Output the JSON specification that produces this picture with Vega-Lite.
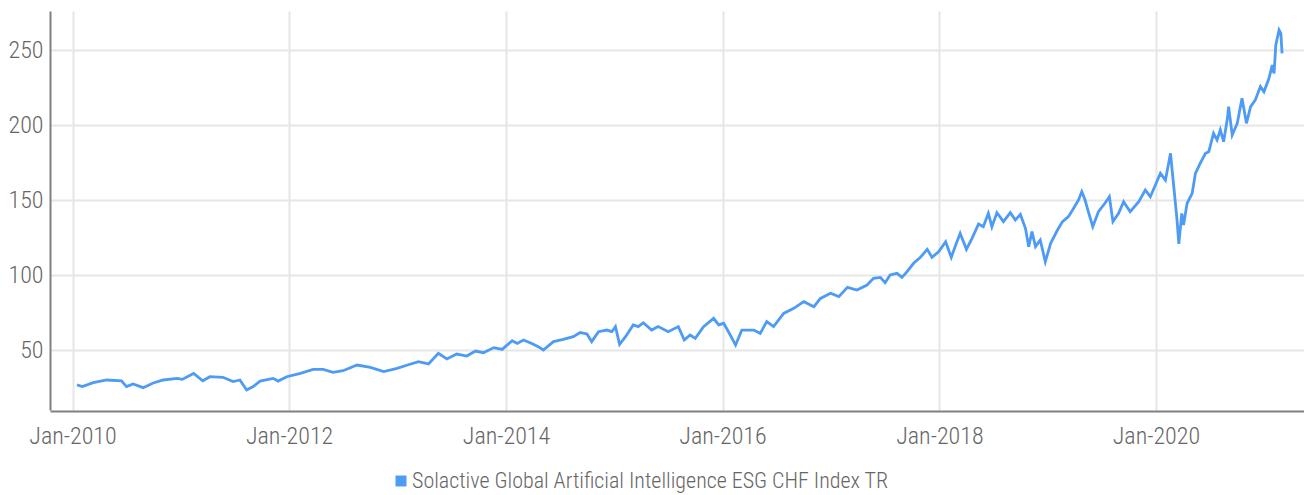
{
  "$schema": "https://vega.github.io/schema/vega-lite/v6.json",
  "width": 1254,
  "height": 399,
  "autosize": "none",
  "padding": {"left": 50, "top": 11, "right": 0, "bottom": 85},
  "config": {"view": {"stroke": null}, "font": "Roboto Condensed, Roboto"},
  "data": {"values": [
    {"date": "2010-01-16", "value": 26.7},
    {"date": "2010-02-03", "value": 25.6},
    {"date": "2010-03-12", "value": 28.2},
    {"date": "2010-04-26", "value": 30.0},
    {"date": "2010-06-15", "value": 29.5},
    {"date": "2010-07-02", "value": 25.6},
    {"date": "2010-07-24", "value": 27.3},
    {"date": "2010-08-27", "value": 24.9},
    {"date": "2010-09-30", "value": 28.0},
    {"date": "2010-11-03", "value": 30.0},
    {"date": "2010-12-20", "value": 31.1},
    {"date": "2011-01-06", "value": 30.4},
    {"date": "2011-02-13", "value": 34.4},
    {"date": "2011-03-16", "value": 29.5},
    {"date": "2011-04-09", "value": 32.2},
    {"date": "2011-05-23", "value": 31.8},
    {"date": "2011-06-26", "value": 28.9},
    {"date": "2011-07-19", "value": 30.0},
    {"date": "2011-08-11", "value": 23.3},
    {"date": "2011-09-02", "value": 25.6},
    {"date": "2011-09-25", "value": 29.3},
    {"date": "2011-11-08", "value": 31.1},
    {"date": "2011-11-25", "value": 29.3},
    {"date": "2011-12-24", "value": 32.2},
    {"date": "2012-02-08", "value": 34.4},
    {"date": "2012-03-22", "value": 37.1},
    {"date": "2012-04-25", "value": 37.1},
    {"date": "2012-05-28", "value": 35.1},
    {"date": "2012-07-01", "value": 36.2},
    {"date": "2012-08-17", "value": 40.0},
    {"date": "2012-10-01", "value": 38.4},
    {"date": "2012-11-15", "value": 35.6},
    {"date": "2012-12-30", "value": 37.8},
    {"date": "2013-02-03", "value": 40.0},
    {"date": "2013-03-12", "value": 42.2},
    {"date": "2013-04-15", "value": 40.7},
    {"date": "2013-05-18", "value": 47.8},
    {"date": "2013-06-16", "value": 44.0},
    {"date": "2013-07-19", "value": 47.3},
    {"date": "2013-08-22", "value": 46.0},
    {"date": "2013-09-20", "value": 49.3},
    {"date": "2013-10-17", "value": 48.2},
    {"date": "2013-11-21", "value": 51.6},
    {"date": "2013-12-19", "value": 50.4},
    {"date": "2014-01-22", "value": 56.2},
    {"date": "2014-02-08", "value": 54.4},
    {"date": "2014-03-01", "value": 56.7},
    {"date": "2014-03-29", "value": 54.4},
    {"date": "2014-04-20", "value": 52.2},
    {"date": "2014-05-07", "value": 50.0},
    {"date": "2014-06-10", "value": 55.6},
    {"date": "2014-07-13", "value": 57.1},
    {"date": "2014-08-16", "value": 58.9},
    {"date": "2014-09-08", "value": 61.6},
    {"date": "2014-10-01", "value": 60.7},
    {"date": "2014-10-17", "value": 55.6},
    {"date": "2014-11-09", "value": 62.2},
    {"date": "2014-12-07", "value": 63.3},
    {"date": "2014-12-24", "value": 62.2},
    {"date": "2015-01-05", "value": 65.6},
    {"date": "2015-01-19", "value": 53.8},
    {"date": "2015-02-08", "value": 58.9},
    {"date": "2015-03-06", "value": 66.7},
    {"date": "2015-03-23", "value": 65.6},
    {"date": "2015-04-09", "value": 68.2},
    {"date": "2015-05-07", "value": 63.3},
    {"date": "2015-05-29", "value": 65.6},
    {"date": "2015-07-02", "value": 62.2},
    {"date": "2015-08-05", "value": 65.6},
    {"date": "2015-08-25", "value": 56.7},
    {"date": "2015-09-14", "value": 60.0},
    {"date": "2015-10-01", "value": 57.8},
    {"date": "2015-10-29", "value": 65.6},
    {"date": "2015-12-02", "value": 71.1},
    {"date": "2015-12-19", "value": 66.7},
    {"date": "2016-01-05", "value": 67.8},
    {"date": "2016-01-27", "value": 60.0},
    {"date": "2016-02-14", "value": 53.3},
    {"date": "2016-03-06", "value": 63.3},
    {"date": "2016-04-15", "value": 63.3},
    {"date": "2016-05-07", "value": 61.1},
    {"date": "2016-05-29", "value": 68.9},
    {"date": "2016-06-21", "value": 65.6},
    {"date": "2016-07-25", "value": 74.4},
    {"date": "2016-08-28", "value": 77.8},
    {"date": "2016-10-01", "value": 82.2},
    {"date": "2016-11-04", "value": 78.9},
    {"date": "2016-11-26", "value": 84.4},
    {"date": "2016-12-30", "value": 87.8},
    {"date": "2017-01-27", "value": 85.6},
    {"date": "2017-02-25", "value": 91.8},
    {"date": "2017-03-29", "value": 90.0},
    {"date": "2017-05-02", "value": 93.3},
    {"date": "2017-05-24", "value": 97.8},
    {"date": "2017-06-16", "value": 98.4},
    {"date": "2017-07-02", "value": 94.9},
    {"date": "2017-07-19", "value": 100.0},
    {"date": "2017-08-11", "value": 101.1},
    {"date": "2017-08-28", "value": 98.4},
    {"date": "2017-09-14", "value": 102.2},
    {"date": "2017-10-06", "value": 107.8},
    {"date": "2017-10-29", "value": 111.8},
    {"date": "2017-11-21", "value": 117.1},
    {"date": "2017-12-07", "value": 111.8},
    {"date": "2017-12-30", "value": 115.6},
    {"date": "2018-01-22", "value": 122.2},
    {"date": "2018-02-10", "value": 111.8},
    {"date": "2018-02-25", "value": 120.0},
    {"date": "2018-03-12", "value": 127.8},
    {"date": "2018-04-02", "value": 117.1},
    {"date": "2018-04-21", "value": 124.4},
    {"date": "2018-05-13", "value": 134.0},
    {"date": "2018-05-29", "value": 132.2},
    {"date": "2018-06-15", "value": 141.1},
    {"date": "2018-06-27", "value": 132.2},
    {"date": "2018-07-14", "value": 141.6},
    {"date": "2018-08-05", "value": 135.6},
    {"date": "2018-08-28", "value": 141.6},
    {"date": "2018-09-14", "value": 136.7},
    {"date": "2018-10-01", "value": 140.4},
    {"date": "2018-10-18", "value": 131.1},
    {"date": "2018-10-29", "value": 118.9},
    {"date": "2018-11-09", "value": 128.9},
    {"date": "2018-11-21", "value": 118.9},
    {"date": "2018-12-07", "value": 123.3},
    {"date": "2018-12-24", "value": 108.9},
    {"date": "2019-01-11", "value": 121.1},
    {"date": "2019-02-03", "value": 130.0},
    {"date": "2019-02-20", "value": 135.6},
    {"date": "2019-03-12", "value": 138.9},
    {"date": "2019-03-29", "value": 144.4},
    {"date": "2019-04-15", "value": 150.0},
    {"date": "2019-04-26", "value": 155.6},
    {"date": "2019-05-07", "value": 150.0},
    {"date": "2019-05-18", "value": 142.2},
    {"date": "2019-06-02", "value": 132.2},
    {"date": "2019-06-21", "value": 142.2},
    {"date": "2019-07-13", "value": 147.8},
    {"date": "2019-07-28", "value": 152.2},
    {"date": "2019-08-09", "value": 135.6},
    {"date": "2019-08-28", "value": 141.1},
    {"date": "2019-09-14", "value": 148.9},
    {"date": "2019-10-06", "value": 142.2},
    {"date": "2019-11-04", "value": 148.9},
    {"date": "2019-11-26", "value": 156.7},
    {"date": "2019-12-13", "value": 152.2},
    {"date": "2019-12-30", "value": 160.0},
    {"date": "2020-01-16", "value": 167.8},
    {"date": "2020-02-02", "value": 163.3},
    {"date": "2020-02-19", "value": 181.1},
    {"date": "2020-03-01", "value": 158.9},
    {"date": "2020-03-12", "value": 136.7},
    {"date": "2020-03-18", "value": 120.7},
    {"date": "2020-03-28", "value": 141.1},
    {"date": "2020-04-03", "value": 133.3},
    {"date": "2020-04-15", "value": 147.8},
    {"date": "2020-05-02", "value": 154.4},
    {"date": "2020-05-13", "value": 167.8},
    {"date": "2020-05-29", "value": 174.4},
    {"date": "2020-06-16", "value": 181.1},
    {"date": "2020-06-27", "value": 182.2},
    {"date": "2020-07-13", "value": 194.4},
    {"date": "2020-07-25", "value": 190.0},
    {"date": "2020-08-05", "value": 196.7},
    {"date": "2020-08-16", "value": 188.9},
    {"date": "2020-08-28", "value": 203.3},
    {"date": "2020-09-02", "value": 212.2},
    {"date": "2020-09-14", "value": 193.3},
    {"date": "2020-10-01", "value": 201.1},
    {"date": "2020-10-17", "value": 217.8},
    {"date": "2020-11-01", "value": 201.1},
    {"date": "2020-11-15", "value": 212.2},
    {"date": "2020-12-01", "value": 216.7},
    {"date": "2020-12-18", "value": 225.6},
    {"date": "2020-12-30", "value": 222.2},
    {"date": "2021-01-16", "value": 231.1},
    {"date": "2021-01-27", "value": 240.0},
    {"date": "2021-02-02", "value": 234.4},
    {"date": "2021-02-08", "value": 253.3},
    {"date": "2021-02-19", "value": 263.3},
    {"date": "2021-02-25", "value": 261.1},
    {"date": "2021-03-01", "value": 247.8}
  ]},
  "mark": {"type": "line", "strokeWidth": 2.8, "clip": true},
  "encoding": {
    "x": {
      "field": "date",
      "type": "temporal",
      "title": null,
      "scale": {"domain": [{"year": 2009, "month": 10, "date": 17}, {"year": 2021, "month": 5, "date": 14}]},
      "axis": {
        "values": [
          {"year": 2010, "month": 1, "date": 1},
          {"year": 2012, "month": 1, "date": 1},
          {"year": 2014, "month": 1, "date": 1},
          {"year": 2016, "month": 1, "date": 1},
          {"year": 2018, "month": 1, "date": 1},
          {"year": 2020, "month": 1, "date": 1}
        ],
        "format": "%b-%Y",
        "grid": true,
        "gridColor": "#e6e6e6",
        "gridWidth": 2,
        "ticks": false,
        "domainColor": "#808080",
        "domainWidth": 2,
        "offset": 1,
        "labelFontSize": 24,
        "labelFontWeight": 300,
        "labelColor": "#666666",
        "labelBaseline": "alphabetic",
        "labelPadding": 32,
        "labelFlush": false
      }
    },
    "y": {
      "field": "value",
      "type": "quantitative",
      "title": null,
      "scale": {"domain": [10, 276], "nice": false, "zero": false},
      "axis": {
        "values": [50, 100, 150, 200, 250],
        "grid": true,
        "gridColor": "#e6e6e6",
        "gridWidth": 2,
        "ticks": false,
        "domainColor": "#808080",
        "domainWidth": 2,
        "labelFontSize": 24,
        "labelFontWeight": 300,
        "labelColor": "#666666",
        "labelPadding": 7
      }
    },
    "color": {
      "datum": "Solactive Global Artificial Intelligence ESG CHF Index TR",
      "scale": {"range": ["#4d9bf5"]},
      "legend": {
        "title": null,
        "orient": "none",
        "legendX": 340,
        "legendY": 459,
        "symbolType": "square",
        "symbolSize": 120,
        "symbolStrokeWidth": 0,
        "symbolFillColor": "#4d9bf5",
        "labelFontSize": 22,
        "labelFontWeight": 300,
        "labelColor": "#666666",
        "labelLimit": 1000,
        "labelOffset": 0
      }
    }
  }
}
